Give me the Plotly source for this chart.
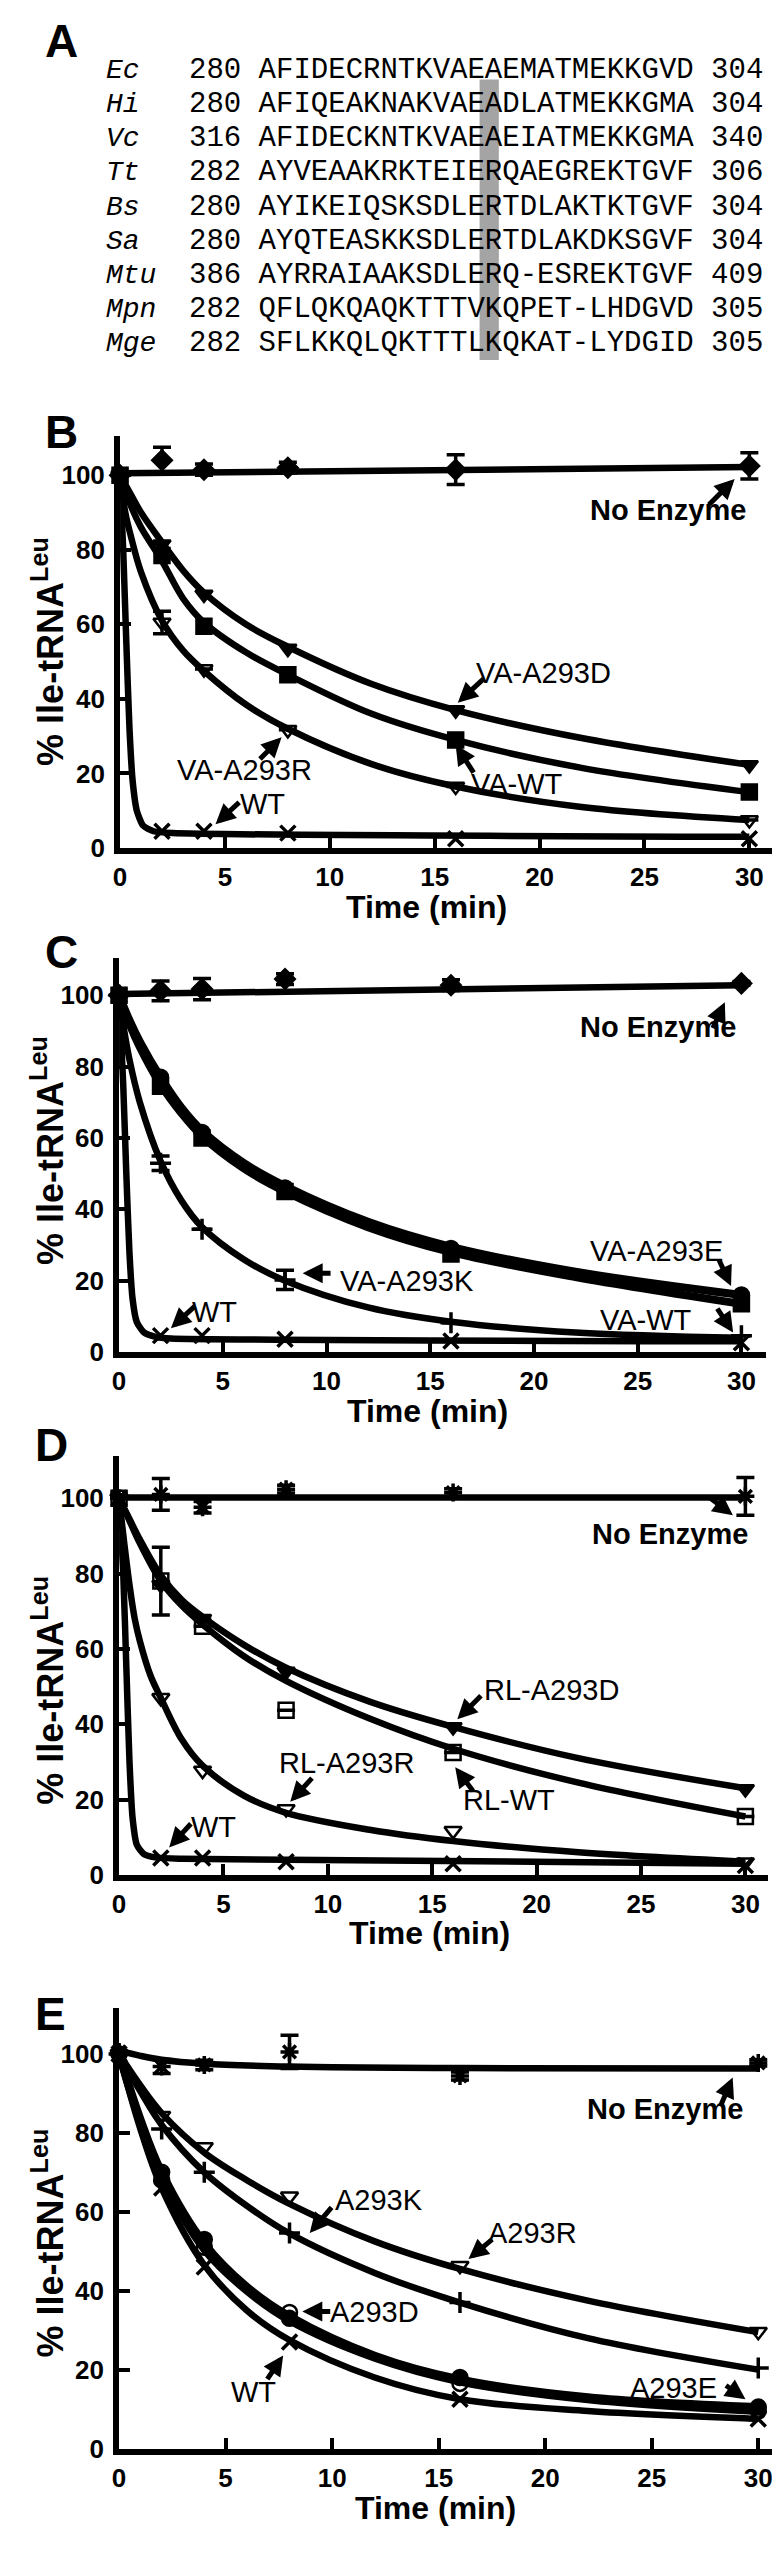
import plotly.graph_objects as go

W, H = 780, 2550

# ---------------- Panel A data ----------------
species = ["Ec", "Hi", "Vc", "Tt", "Bs", "Sa", "Mtu", "Mpn", "Mge"]
start_pos = [280, 280, 316, 282, 280, 280, 386, 282, 282]
sequences = [
    "AFIDECRNTKVAEAEMATMEKKGVD",
    "AFIQEAKNAKVAEADLATMEKKGMA",
    "AFIDECKNTKVAEAEIATMEKKGMA",
    "AYVEAAKRKTEIERQAEGREKTGVF",
    "AYIKEIQSKSDLERTDLAKTKTGVF",
    "AYQTEASKKSDLERTDLAKDKSGVF",
    "AYRRAIAAKSDLERQ-ESREKTGVF",
    "QFLQKQAQKTTTVKQPET-LHDGVD",
    "SFLKKQLQKTTTLKQKAT-LYDGID",
]
end_pos = [304, 304, 340, 306, 304, 304, 409, 305, 305]

# ---------------- Kinetics data (time points) ----------------
T = [0, 2, 4, 8, 16, 30]

# Panel B
B_noenz = [100, 104, 101.5, 102, 101.5, 102.5]
B_noenz_err = [0, 3.5, 1.5, 1.5, 4, 3.5]
B_A293D = [100, 81.5, 68, 53.5, 37, 22.3]
B_VAWT = [100, 78.5, 59.5, 46.5, 29, 15]
B_A293R = [100, 60.5, 48, 31.7, 16.5, 7.5]
B_A293R_err = [0, 3, 0, 0, 0, 0]
B_WT = [100, 4.5, 4.5, 4, 2.5, 2.5]
# fitted curves
Bf_noenz_x = [0, 30]; Bf_noenz_y = [100.5, 102.2]
Bf_A293D_x = [0, 0.5, 1, 2, 3, 4, 6, 8, 12, 16, 22, 30]
Bf_A293D_y = [100, 95, 90, 82, 74.5, 68.5, 60, 54, 44, 37, 29.5, 22.3]
Bf_VAWT_x = [0, 0.5, 1, 2, 3, 4, 6, 8, 12, 16, 22, 30]
Bf_VAWT_y = [100, 92, 86, 77, 67, 60.5, 52.5, 46.5, 36, 29, 21.5, 15]
Bf_A293R_x = [0, 0.25, 0.5, 1, 2, 3, 4, 6, 8, 12, 16, 22, 30]
Bf_A293R_y = [100, 90, 84, 74, 61, 53, 47.5, 38.5, 32, 22.5, 16.5, 11, 7.5]
Bf_WT_x = [0, 0.15, 0.3, 0.45, 0.6, 0.8, 1.1, 1.6, 2.5, 30]
Bf_WT_y = [100, 80, 55, 32, 18, 10, 6, 4.5, 4, 3]

# Panel C
C_noenz = [100, 101.2, 101.7, 104.5, 102.8, 103.3]
C_noenz_err = [0, 2.8, 3, 1.5, 1.5, 0.5]
C_A293E = [100, 77, 61.5, 46, 29, 16]
C_VAWT = [100, 74.5, 60, 45, 27.5, 13.5]
C_A293K = [100, 52.9, 34.4, 20.2, 8.2, 4.6]
C_A293K_err = [0, 2, 0, 2.7, 0, 0]
C_WT = [100, 4.6, 4.6, 3.6, 3.1, 2.6]
Cf_noenz_x = [0, 30]; Cf_noenz_y = [100.3, 102.8]
Cf_A293E_x = [0, 0.5, 1, 2, 3, 4, 6, 8, 12, 16, 22, 30]
Cf_A293E_y = [100, 93, 87, 77, 68.5, 62, 53, 46.5, 36.5, 29.5, 22.5, 16]
Cf_VAWT_x = [0, 0.5, 1, 2, 3, 4, 6, 8, 12, 16, 22, 30]
Cf_VAWT_y = [100, 92, 85.5, 75, 67, 60.5, 51.5, 45, 35, 28, 21, 13.5]
Cf_A293K_x = [0, 0.25, 0.5, 1, 2, 3, 4, 6, 8, 12, 16, 22, 30]
Cf_A293K_y = [100, 90, 82, 70, 53.5, 42.5, 35, 26, 20, 12.5, 8.5, 5.5, 4]
Cf_WT_x = [0, 0.2, 0.35, 0.5, 0.65, 0.85, 1.2, 1.8, 2.5, 30]
Cf_WT_y = [100, 75, 50, 28, 15, 8.5, 5.5, 4.2, 3.8, 3]

# Panel D
D_noenz = [100, 101, 97.6, 102.4, 101.5, 100.5]
D_noenz_err = [0, 4.2, 1.5, 1, 1, 5]
D_A293D = [100, 77, 68, 54, 39.3, 22.8]
D_RLWT = [100, 78, 66, 43.7, 32.5, 15.5]
D_RLWT_err = [0, 9, 0, 0, 0, 0]
D_A293R = [100, 47, 27.7, 17.5, 11.7, 3.4]
D_WT = [100, 4.5, 4.5, 3.5, 3, 2.5]
Df_noenz_x = [0, 30]; Df_noenz_y = [100.2, 100.2]
Df_A293D_x = [0, 0.5, 1, 2, 3, 4, 6, 8, 12, 16, 22, 30]
Df_A293D_y = [100, 94.5, 89, 79.5, 73, 68.5, 61, 55, 46, 39.3, 31, 23]
Df_RLWT_x = [0, 0.5, 1, 2, 3, 4, 6, 8, 12, 16, 22, 30]
Df_RLWT_y = [100, 94, 88, 78, 71.5, 66.5, 58, 51.5, 41.5, 33.5, 24.5, 15.5]
Df_A293R_x = [0, 0.25, 0.5, 0.75, 1, 1.5, 2, 3, 4, 6, 8, 12, 16, 22, 30]
Df_A293R_y = [100, 88, 77, 68, 62, 53, 47, 36, 29, 21, 16.5, 12, 9, 6, 3.5]
Df_WT_x = [0, 0.2, 0.35, 0.5, 0.65, 0.85, 1.2, 1.8, 3, 30]
Df_WT_y = [100, 80, 55, 30, 15, 8, 5.5, 4.6, 4.3, 3]

# Panel E
E_noenz = [100.5, 96.8, 97.2, 100.5, 94.4, 97.7]
E_noenz_err = [0, 1.8, 1.2, 4.2, 1, 0.8]
E_A293R = [100, 84.3, 76.4, 63.9, 46.3, 29.6]
E_A293K = [100, 81, 70, 54.6, 37, 20.4]
E_A293E = [100, 70, 53, 33, 18, 10.5]
E_A293D = [100, 68, 51, 34.5, 16.5, 9.5]
E_WT = [100, 66, 46, 27, 12.5, 7.5]
Ef_noenz_x = [0, 1, 2, 4, 8, 16, 30]
Ef_noenz_y = [100.8, 99.5, 98.5, 97.5, 96.8, 96.4, 96.3]
Ef_A293R_x = [0, 1, 2, 4, 6, 8, 12, 16, 22, 30]
Ef_A293R_y = [100, 92, 85, 75, 68, 62, 52.5, 45.5, 37.5, 29.5]
Ef_A293K_x = [0, 1, 2, 4, 6, 8, 12, 16, 22, 30]
Ef_A293K_y = [100, 90.5, 82, 70, 61.5, 54.5, 44.5, 37, 28, 20]
Ef_A293E_x = [0, 1, 2, 4, 6, 8, 12, 16, 22, 30]
Ef_A293E_y = [100, 83.5, 70, 52, 41, 33.5, 23.5, 17.5, 13, 10.5]
Ef_A293D_x = [0, 1, 2, 4, 6, 8, 12, 16, 22, 30]
Ef_A293D_y = [100, 82.5, 69, 50.5, 40, 32.5, 23, 17, 12.5, 9.5]
Ef_WT_x = [0, 1, 2, 4, 6, 8, 12, 16, 22, 30]
Ef_WT_y = [100, 81, 66, 46.5, 35, 27.5, 18, 12.5, 9.5, 7.5]

XTICKS = [0, 5, 10, 15, 20, 25, 30]
YTICKS = [0, 20, 40, 60, 80, 100]

# ---------------- Layout geometry (pixels) ----------------
# (x0px, x30px, xendpx, y0px, y100px, ytoppx)
geom = {
    "B": (106, 741, 765, 845, 470, 431),
    "C": (105, 733, 758, 1352, 993, 956),
    "D": (105, 737, 760, 1878, 1499, 1457),
    "E": (105, 750, 772, 2455, 2058, 2012),
}

fig = go.Figure()
layout = dict(width=W, height=H, margin=dict(l=0, r=0, t=0, b=0),
              paper_bgcolor="white", plot_bgcolor="white", showlegend=False)
annotations = []
shapes = []

def px(x):
    return x / W

def py(y):
    return 1 - y / H

SANS = "Liberation Sans, Arial, sans-serif"
LAB_FONT = dict(family=SANS, size=29, color="black")
NOENZ_FONT = dict(family=SANS, size=29, color="black", weight="bold")

panel_keys = ["B", "C", "D", "E"]
for i, key in enumerate(panel_keys):
    x0p, x30p, xendp, y0p, y100p, ytopp = geom[key]
    xr = 30 * (xendp - x0p) / (x30p - x0p)
    yr = 100 * (y0p - ytopp) / (y0p - y100p)
    sfx = "" if i == 0 else str(i + 1)
    common = dict(showline=True, linewidth=6, linecolor="black", ticks="inside",
                  ticklen=11, tickwidth=4, tickcolor="black", showgrid=False,
                  zeroline=False,
                  tickfont=dict(family=SANS, size=26, color="black", weight="bold"))
    layout["xaxis" + sfx] = dict(common, domain=[px(x0p), px(xendp)], range=[0, xr],
                                 tickvals=XTICKS, anchor="y" + sfx, ticklabelstandoff=1)
    layout["yaxis" + sfx] = dict(common, domain=[py(y0p), py(ytopp)], range=[0, yr],
                                 tickvals=YTICKS, anchor="x" + sfx, ticklabelstandoff=4)

def add_fit(xs, ys, ax, width=6.5, smoothing=1.0):
    fig.add_trace(go.Scatter(x=xs, y=ys, mode="lines", xaxis="x" + ax, yaxis="y" + ax,
                             line=dict(color="black", width=width, shape="spline",
                                       smoothing=smoothing),
                             hoverinfo="skip", cliponaxis=False))

def add_pts(ys, symbol, ax, err=None, size=15, lw=2.5):
    kw = {}
    if err is not None:
        kw["error_y"] = dict(type="data", array=err, visible=True, color="black",
                             thickness=3.5, width=9)
    fig.add_trace(go.Scatter(x=T, y=ys, mode="markers", xaxis="x" + ax, yaxis="y" + ax,
                             marker=dict(symbol=symbol, size=size, color="black",
                                         line=dict(color="black", width=lw)),
                             cliponaxis=False, **kw))

def label(text, x, y, ax, font=LAB_FONT):
    annotations.append(dict(x=x, y=y, xref="x" + ax, yref="y" + ax, text=text,
                            showarrow=False, font=font, xanchor="center", yanchor="middle"))

def arrow(x, y, dx, dy, ax):
    # head at (x, y) in data units, tail offset (dx, dy) in pixels
    k = 2.1
    annotations.append(dict(x=x, y=y, xref="x" + ax, yref="y" + ax, ax=dx * k, ay=dy * k,
                            text="", showarrow=True, arrowhead=2, arrowsize=0.8,
                            arrowwidth=5, arrowcolor="black", standoff=0))

# ----- Panel B -----
a = ""
add_fit(Bf_noenz_x, Bf_noenz_y, a)
add_fit(Bf_A293D_x, Bf_A293D_y, a)
add_fit(Bf_VAWT_x, Bf_VAWT_y, a)
add_fit(Bf_A293R_x, Bf_A293R_y, a)
add_fit(Bf_WT_x, Bf_WT_y, a, smoothing=0.6)
add_pts(B_noenz, "diamond", a, err=B_noenz_err)
add_pts(B_A293D, "triangle-down", a)
add_pts(B_VAWT, "square", a)
add_pts(B_A293R, "triangle-down-open", a, err=B_A293R_err)
add_pts(B_WT, "x-thin", a, lw=3.5)
label("No Enzyme", 26.1, 90.6, a, NOENZ_FONT); arrow(29.3, 99, -13, 13, a)
label("VA-A293D", 20.2, 47, a); arrow(16.1, 39, 13, -12, a)
label("VA-WT", 18.9, 17.3, a); arrow(16.0, 27.7, 9, 14, a)
label("VA-A293R", 5.95, 20.8, a); arrow(7.7, 29.7, -11, 11, a)
label("WT", 6.8, 11.9, a); arrow(4.55, 6.4, 12, -11, a)

# ----- Panel C -----
a = "2"
add_fit(Cf_noenz_x, Cf_noenz_y, a)
add_fit(Cf_A293E_x, Cf_A293E_y, a, width=8)
add_fit(Cf_VAWT_x, Cf_VAWT_y, a, width=8)
add_fit(Cf_A293K_x, Cf_A293K_y, a)
add_fit(Cf_WT_x, Cf_WT_y, a, smoothing=0.6)
add_pts(C_noenz, "diamond", a, err=C_noenz_err)
add_pts(C_A293E, "circle", a)
add_pts(C_VAWT, "square", a)
add_pts(C_A293K, "cross-thin", a, err=C_A293K_err, lw=3.5)
add_pts(C_WT, "x-thin", a, lw=3.5)
label("No Enzyme", 26.0, 91, a, NOENZ_FONT); arrow(29.2, 98, -6, 13, a)
label("VA-A293E", 25.9, 28.3, a); arrow(29.5, 18.5, -6, -13, a)
label("VA-WT", 25.4, 8.9, a); arrow(29.6, 5.5, -8, -12, a)
label("VA-A293K", 13.9, 20, a); arrow(8.85, 22.1, 14, 0, a)
label("WT", 4.6, 11.3, a); arrow(2.5, 6.7, 12, -11, a)

# ----- Panel D -----
a = "3"
add_fit(Df_noenz_x, Df_noenz_y, a)
add_fit(Df_A293D_x, Df_A293D_y, a)
add_fit(Df_RLWT_x, Df_RLWT_y, a)
add_fit(Df_A293R_x, Df_A293R_y, a)
add_fit(Df_WT_x, Df_WT_y, a, smoothing=0.6)
add_pts(D_noenz, "asterisk-open", a, err=D_noenz_err, lw=3.5)
add_pts(D_A293D, "triangle-down", a)
add_pts(D_RLWT, "square-open", a, err=D_RLWT_err)
add_pts(D_A293R, "triangle-down-open", a)
add_pts(D_WT, "x-thin", a, lw=3.5)
label("No Enzyme", 26.4, 90.6, a, NOENZ_FONT); arrow(29.4, 95.5, -12, -9, a)
label("RL-A293D", 20.7, 49, a); arrow(16.2, 41.3, 12, -12, a)
label("RL-WT", 18.7, 19.9, a); arrow(16.1, 28.6, 9, 12, a)
label("RL-A293R", 10.9, 29.6, a); arrow(8.2, 19.4, 11, -12, a)
label("WT", 4.5, 12.6, a); arrow(2.4, 7.3, 11, -12, a)

# ----- Panel E -----
a = "4"
add_fit(Ef_noenz_x, Ef_noenz_y, a)
add_fit(Ef_A293R_x, Ef_A293R_y, a)
add_fit(Ef_A293K_x, Ef_A293K_y, a)
add_fit(Ef_A293E_x, Ef_A293E_y, a, width=8)
add_fit(Ef_A293D_x, Ef_A293D_y, a, width=8)
add_fit(Ef_WT_x, Ef_WT_y, a)
add_pts(E_noenz, "asterisk-open", a, err=E_noenz_err, lw=3.5)
add_pts(E_A293R, "triangle-down-open", a)
add_pts(E_A293K, "cross-thin", a, lw=3.5)
add_pts(E_A293E, "circle", a)
add_pts(E_A293D, "circle-open", a)
add_pts(E_WT, "x-thin", a, lw=3.5)
label("No Enzyme", 25.6, 86.1, a, NOENZ_FONT); arrow(28.8, 94, -6, 14, a)
label("A293K", 12.2, 63, a); arrow(8.95, 54.6, 11, -13, a)
label("A293R", 19.4, 54.6, a); arrow(16.4, 48, 12, -10, a)
label("A293D", 12.0, 34.7, a); arrow(8.6, 34.7, 14, 0, a)
label("WT", 6.3, 14.4, a); arrow(7.7, 23.6, -8, 12, a)
label("A293E", 26.0, 15.3, a); arrow(29.4, 12.5, -10, -7, a)

# ----- Axis titles & panel letters (paper coords) -----
TITLE_FONT = dict(family=SANS, size=32, color="black", weight="bold")
YT_FONT = dict(family=SANS, size=36, color="black", weight="bold")
LET_FONT = dict(family=SANS, size=46, color="black", weight="bold")

xt_pos = [(415, 904), (416, 1411), (418, 1936), (424, 2515)]
yt_pos = [(33, 647), (33, 1149), (33, 1692), (33, 2248)]
for (xx, yy) in xt_pos:
    annotations.append(dict(x=px(xx), y=py(yy), xref="paper", yref="paper",
                            text="Time (min)", showarrow=False, font=TITLE_FONT,
                            xanchor="center", yanchor="middle"))
for (xx, yy) in yt_pos:
    annotations.append(dict(x=px(xx), y=py(yy), xref="paper", yref="paper",
                            text="% Ile-tRNA<sup>Leu</sup>", textangle=-90, showarrow=False,
                            font=YT_FONT, xanchor="center", yanchor="middle"))

letters = [("A", 47, 33), ("B", 47, 427), ("C", 47, 950), ("D", 37, 1446), ("E", 36, 2018)]
for (t, xx, yy) in letters:
    annotations.append(dict(x=px(xx), y=py(yy), xref="paper", yref="paper", text=t,
                            showarrow=False, font=LET_FONT, xanchor="center", yanchor="middle"))

# ----- Panel A alignment -----
MONO = "Liberation Mono, Courier New, monospace"
row_y0, row_dy = 63, 34.3
char_w = 17.4
seq_x = 174
for i, sp in enumerate(species):
    yy = row_y0 + i * row_dy
    annotations.append(dict(x=px(90), y=py(yy), xref="paper", yref="paper",
                            text="<i>" + sp + "</i>", showarrow=False,
                            font=dict(family=MONO, size=28, color="black"),
                            xanchor="left", yanchor="middle"))
    annotations.append(dict(x=px(seq_x), y=py(yy), xref="paper", yref="paper",
                            text=f"{start_pos[i]} {sequences[i]} {end_pos[i]}",
                            showarrow=False, font=dict(family=MONO, size=29, color="black"),
                            xanchor="left", yanchor="middle"))

hl_col = 4 + 13
shapes.append(dict(type="rect", xref="paper", yref="paper",
                   x0=px(seq_x + hl_col * char_w - 1), x1=px(seq_x + (hl_col + 1) * char_w + 1),
                   y0=py(354), y1=py(72), fillcolor="#a4a4a4", line=dict(width=0),
                   layer="below"))

layout["annotations"] = annotations
layout["shapes"] = shapes
fig.update_layout(**layout)
fig.write_html("out.html")
